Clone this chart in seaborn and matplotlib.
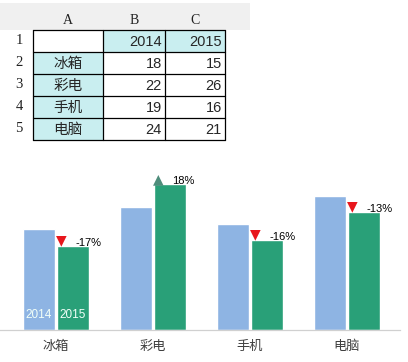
import matplotlib
matplotlib.use("Agg")
import matplotlib.pyplot as plt
import seaborn as sns
import pandas as pd
import numpy as np

# data from the sheet
categories = ["冰箱", "彩电", "手机", "电脑"]
years = ["2014", "2015"]
sales_2014 = [18, 22, 19, 24]
sales_2015 = [15, 26, 16, 21]

col_letters = ["A", "B", "C"]
row_numbers = ["1", "2", "3", "4", "5"]

blue = "#8eb4e3"
green = "#29a078"
cyan = "#c9eef0"

sns.set_theme(style="white")
plt.rcParams["font.family"] = ["Noto Sans CJK SC", "DejaVu Sans"]

W, H = 408, 362
fig = plt.figure(figsize=(W / 100, H / 100), dpi=100)

# ---- spreadsheet part, drawn in pixel coords ----
bg = fig.add_axes([0, 0, 1, 1])
bg.set_xlim(0, W)
bg.set_ylim(H, 0)
bg.axis("off")

bg.add_patch(plt.Rectangle((0, 3), 250, 27, color="#f0f0f0", lw=0, zorder=0))

col_x = [33, 103, 165, 225]
row_y = [30, 52, 74, 96, 118, 140]

# cell fills
for j in (1, 2):
    bg.add_patch(plt.Rectangle((col_x[j], row_y[0]), col_x[j + 1] - col_x[j],
                               row_y[1] - row_y[0], color=cyan, lw=0, zorder=1))
for i in range(4):
    bg.add_patch(plt.Rectangle((col_x[0], row_y[i + 1]), col_x[1] - col_x[0],
                               row_y[i + 2] - row_y[i + 1], color=cyan, lw=0, zorder=1))

# grid
for x in col_x:
    bg.plot([x, x], [row_y[0], row_y[-1]], color="black", lw=0.9, zorder=2)
for y in row_y:
    bg.plot([col_x[0], col_x[-1]], [y, y], color="black", lw=0.9, zorder=2)

for j, letter in enumerate(col_letters):
    bg.text((col_x[j] + col_x[j + 1]) / 2, 20, letter, ha="center", va="center",
            fontsize=10, family="Liberation Serif", color="#222222")
for i, rn in enumerate(row_numbers):
    bg.text(19, (row_y[i] + row_y[i + 1]) / 2, rn, ha="center", va="center",
            fontsize=10.5, family="Liberation Serif", color="#222222")

ymid = lambda r: (row_y[r] + row_y[r + 1]) / 2 + 1
bg.text(col_x[2] - 3, ymid(0), years[0], ha="right", va="center",
        fontsize=10.5, family="Liberation Sans")
bg.text(col_x[3] - 3, ymid(0), years[1], ha="right", va="center",
        fontsize=10.5, family="Liberation Sans")
for i, cat in enumerate(categories):
    bg.text((col_x[0] + col_x[1]) / 2, ymid(i + 1), cat, ha="center", va="center",
            fontsize=10.5)
    bg.text(col_x[2] - 3, ymid(i + 1), str(sales_2014[i]), ha="right", va="center",
            fontsize=10.5, family="Liberation Sans")
    bg.text(col_x[3] - 3, ymid(i + 1), str(sales_2015[i]), ha="right", va="center",
            fontsize=10.5, family="Liberation Sans")

# ---- chart part ----
df = pd.DataFrame({
    "item": categories * 2,
    "year": [years[0]] * 4 + [years[1]] * 4,
    "sales": sales_2014 + sales_2015,
})

base_px = 330
ppu = 5.6
ax = fig.add_axes([0, (H - base_px) / H, 400 / W, 30 * ppu / H])
ax.patch.set_alpha(0)
sns.barplot(data=df, x="item", y="sales", hue="year", palette=[blue, green],
            width=0.7, gap=0.05, saturation=1, legend=False, ax=ax)
ax.set_xlim(-56 / 97, 344 / 97)
ax.set_ylim(0, 30)
ax.set_xlabel("")
ax.set_ylabel("")
ax.set_yticks([])
for s in ["top", "right", "left"]:
    ax.spines[s].set_visible(False)
ax.spines["bottom"].set_color("#d0d0d0")
ax.spines["bottom"].set_linewidth(0.9)
ax.tick_params(axis="x", length=0, pad=7, labelsize=9.5, labelcolor="#404040")

pt = 0.72  # points per pixel at 100 dpi
for i in range(len(categories)):
    old, new = sales_2014[i], sales_2015[i]
    p = (new - old) / old
    pct = int(np.sign(p) * np.floor(abs(p) * 100 + 0.5))
    up = pct > 0
    ax.annotate("▲" if up else "▼", xy=(i, new), xytext=(5 * pt, (5 if up else 6) * pt),
                textcoords="offset points", ha="center", va="center",
                fontsize=10, family="DejaVu Sans",
                color="#4e8d7b" if up else "#e8161c")
    ax.annotate(f"{pct}%", xy=(i, new), xytext=(19 * pt, 3 * pt),
                textcoords="offset points", ha="left", va="center",
                fontsize=8, family="Liberation Sans", color="black")

# year names inside the first pair of bars
for k, yr in enumerate(years):
    ax.text(-0.175 + 0.35 * k, 15 / ppu, yr, ha="center", va="center",
            fontsize=8.5, family="Liberation Sans", color="#f2fff8")

fig.savefig("out.png", dpi=100)
